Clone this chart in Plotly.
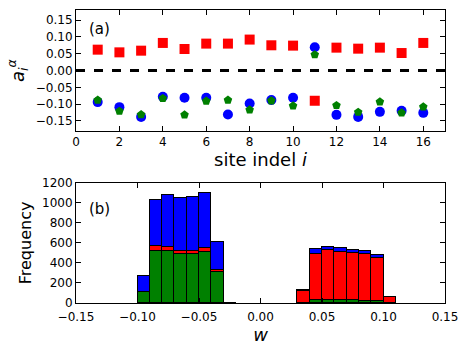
import plotly.graph_objects as go

FONT = 'DejaVu Sans, Arial, sans-serif'

# panel (a): coefficients per site
sites = list(range(1, 17))
red_a = [0.062, 0.054, 0.059, 0.082, 0.064, 0.080, 0.080, 0.092, 0.075, 0.074, -0.090, 0.068, 0.065, 0.068, 0.052, 0.082]
blue_a = [-0.094, -0.109, -0.138, -0.078, -0.081, -0.081, -0.131, -0.098, -0.088, -0.081, 0.069, -0.132, -0.138, -0.123, -0.120, -0.126]
green_a = [-0.088, -0.121, -0.131, -0.083, -0.132, -0.091, -0.088, -0.117, -0.090, -0.105, 0.047, -0.104, -0.124, -0.093, -0.126, -0.108]

# panel (b): stacked histogram, bin width 0.01 (left edges)
bin_left = [-0.10, -0.09, -0.08, -0.07, -0.06, -0.05, -0.04, -0.03, 0.03, 0.04, 0.05, 0.06, 0.07, 0.08, 0.09, 0.10]
green_h = [112, 523, 520, 490, 490, 515, 315, 0, 0, 30, 30, 30, 35, 25, 20, 0]
red_h = [0, 44, 37, 35, 30, 35, 15, 0, 120, 463, 503, 485, 465, 465, 435, 57]
blue_h = [161, 466, 526, 522, 543, 547, 277, 5, 8, 44, 27, 35, 35, 35, 30, 3]
bin_w = 0.01

fig = go.Figure()
fig.add_trace(go.Scatter(x=sites, y=blue_a, mode='markers', marker=dict(symbol='circle', size=10, color='#0000ff'), xaxis='x', yaxis='y'))
fig.add_trace(go.Scatter(x=sites, y=green_a, mode='markers', marker=dict(symbol='pentagon', size=9, color='#008000'), xaxis='x', yaxis='y'))
fig.add_trace(go.Scatter(x=sites, y=red_a, mode='markers', marker=dict(symbol='square', size=10, color='#ff0000'), xaxis='x', yaxis='y'))

centers = [b + bin_w / 2 for b in bin_left]
for vals, col in [(green_h, '#008000'), (red_h, '#ff0000'), (blue_h, '#0000ff')]:
    fig.add_trace(go.Bar(x=centers, y=vals, width=bin_w, marker=dict(color=col, line=dict(color='black', width=1)), xaxis='x2', yaxis='y2'))

fig.add_shape(type='line', xref='x domain', yref='y', x0=0, x1=1, y0=0, y1=0, line=dict(color='black', width=3, dash='dash'))

ax = dict(showline=True, mirror='allticks', linecolor='black', linewidth=1, ticks='inside', ticklen=5, tickcolor='black', automargin=False,
          showgrid=False, zeroline=False, tickfont=dict(family=FONT, size=12, color='black'))
fig.update_layout(
    width=469, height=352, plot_bgcolor='white', paper_bgcolor='white', showlegend=False, barmode='stack', bargap=0,
    margin=dict(l=76, r=24, t=10, b=49), font=dict(family=FONT, color='black'),
    xaxis=dict(**ax, domain=[0, 1], range=[0, 17], dtick=2, anchor='y',
               title=dict(text='site indel <i>i</i>', font=dict(size=18), standoff=2)),
    yaxis=dict(**ax, domain=[0.587, 1], range=[-0.18, 0.18], dtick=0.05, tickformat='.2f', anchor='x',
               title=dict(text='<i>a</i><sub><i>i</i></sub><sup><i>α</i></sup>', font=dict(size=18), standoff=6)),
    xaxis2=dict(**ax, domain=[0, 1], range=[-0.15, 0.15], dtick=0.05, tickformat='.2f', anchor='y2', ticklabelstandoff=3,
                title=dict(text='<i>w</i>', font=dict(size=18), standoff=4)),
    yaxis2=dict(**ax, domain=[0, 0.41], range=[0, 1200], dtick=200, anchor='x2',
                title=dict(text='Frequency', font=dict(size=16), standoff=6)),
    annotations=[
        dict(text='(a)', x=0.03, y=0.93, xref='x domain', yref='y domain', xanchor='left', yanchor='top', showarrow=False, font=dict(size=15)),
        dict(text='(b)', x=0.03, y=0.87, xref='x2 domain', yref='y2 domain', xanchor='left', yanchor='top', showarrow=False, font=dict(size=15)),
    ],
)
fig.write_html('out.html', config={'displayModeBar': False}, post_script="document.body.style.margin='0';")
